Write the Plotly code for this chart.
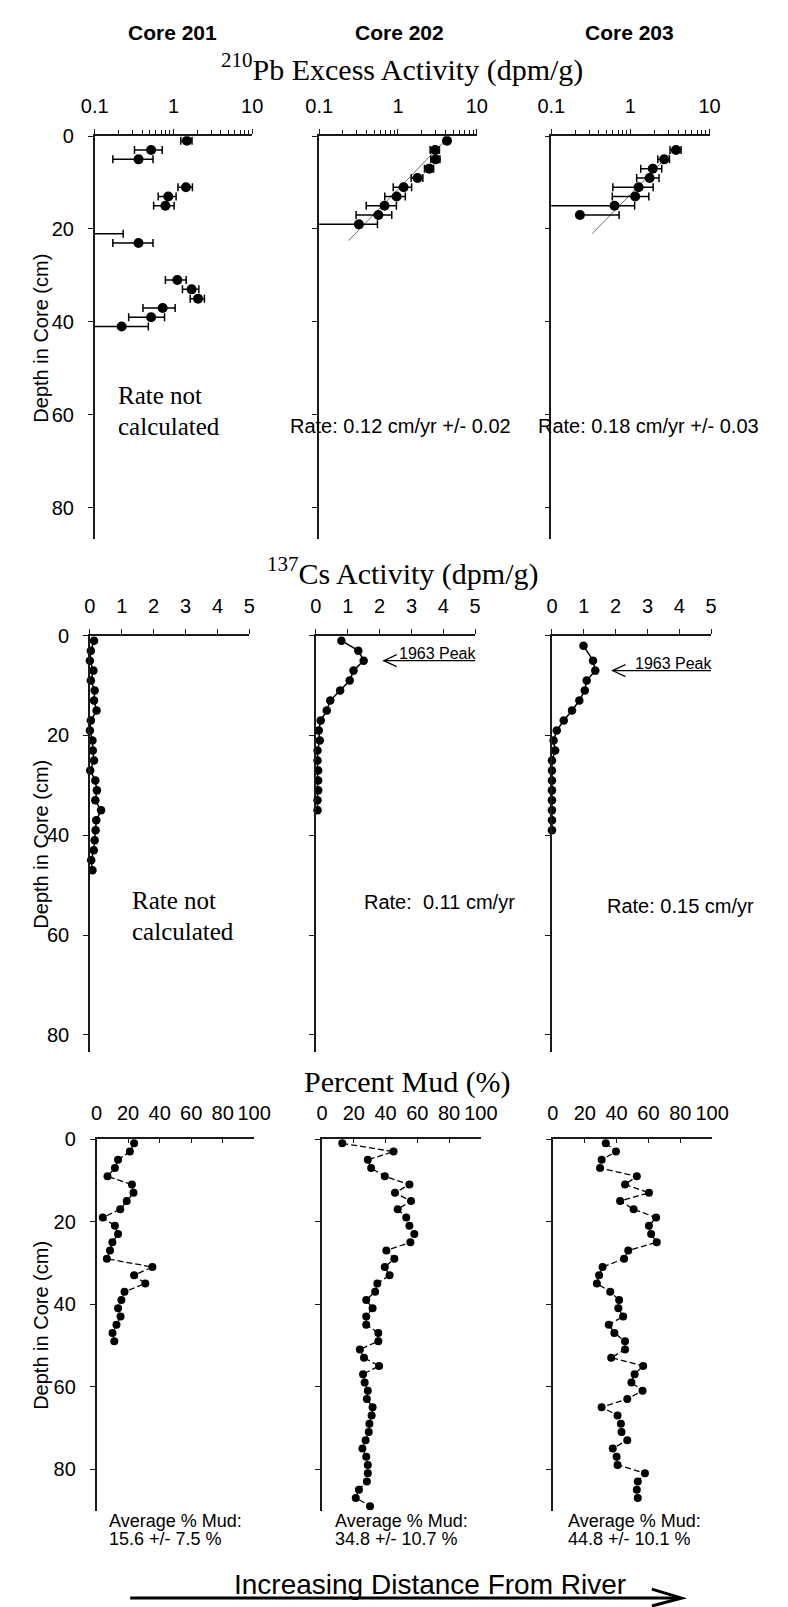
import plotly.graph_objects as go

W, H = 788, 1607

# ---------------- data ----------------
CORES = ["Core 201", "Core 202", "Core 203"]

# 210Pb excess activity (dpm/g)
PB201_DEPTH = [1, 3, 5, 11, 13, 15, 21, 23, 31, 33, 35, 37, 39, 41]
PB201_ACT = [1.48, 0.52, 0.36, 1.44, 0.86, 0.79, 0.05, 0.36, 1.12, 1.70, 2.05, 0.73, 0.52, 0.22]
PB201_ERR_P = [0.24, 0.20, 0.19, 0.30, 0.22, 0.23, 0.18, 0.19, 0.33, 0.40, 0.42, 0.32, 0.25, 0.26]
PB201_ERR_M = [0.24, 0.20, 0.19, 0.30, 0.22, 0.23, 0.00, 0.19, 0.33, 0.40, 0.42, 0.32, 0.25, 0.26]

PB202_DEPTH = [1, 3, 5, 7, 9, 11, 13, 15, 17, 19]
PB202_ACT = [4.19, 2.96, 3.01, 2.50, 1.77, 1.18, 0.96, 0.675, 0.564, 0.319]
PB202_ERR = [0.30, 0.40, 0.40, 0.33, 0.30, 0.31, 0.28, 0.28, 0.27, 0.23]
FIT202_DEPTH = [0.5, 22.5]
FIT202_ACT = [4.2, 0.236]

PB203_DEPTH = [3, 5, 7, 9, 11, 13, 15, 17]
PB203_ACT = [3.77, 2.67, 1.92, 1.75, 1.27, 1.15, 0.63, 0.23]
PB203_ERR_P = [0.60, 0.45, 0.57, 0.55, 0.67, 0.56, 0.50, 0.49]
PB203_ERR_M = [0.60, 0.45, 0.57, 0.55, 0.67, 0.56, 0.55, 0.00]
FIT203_DEPTH = [2, 21]
FIT203_ACT = [4.0, 0.33]

# 137Cs activity (dpm/g)
CS201_DEPTH = [1, 3, 5, 7, 9, 11, 13, 15, 17, 19, 21, 23, 25, 27, 29, 31, 33, 35, 37, 39, 41, 43, 45, 47]
CS201_ACT = [0.13, 0.03, 0.0, 0.11, 0.03, 0.15, 0.13, 0.21, 0.03, 0.0, 0.08, 0.09,
             0.13, 0.01, 0.17, 0.22, 0.17, 0.35, 0.20, 0.18, 0.15, 0.12, 0.04, 0.08]
CS202_DEPTH = [1, 3, 5, 7, 9, 11, 13, 15, 17, 19, 21, 23, 25, 27, 29, 31, 33, 35]
CS202_ACT = [0.80, 1.33, 1.50, 1.18, 1.06, 0.76, 0.45, 0.34, 0.15, 0.09, 0.12, 0.05,
             0.05, 0.07, 0.07, 0.07, 0.05, 0.05]
CS203_DEPTH = [2, 5, 7, 9, 11, 13, 15, 17, 19, 21, 23, 25, 27, 29, 31, 33, 35, 37, 39]
CS203_ACT = [0.99, 1.29, 1.36, 1.09, 1.03, 0.86, 0.63, 0.37, 0.15, 0.05, 0.10, 0.0,
             0.0, 0.0, 0.0, 0.0, 0.0, 0.0, 0.0]
CS_ERR_X = 0.08
CS_ERR_Y = 0.6
PEAK_DEPTH = [5, 7]          # 1963 peak depth, cores 202 / 203
PEAK_TIP_X = [2.13, 1.9]     # arrow tip activity
PEAK_TAIL_X = 5.0

# Percent mud (%)
MUD201_DEPTH = [1, 3, 5, 7, 9, 11, 13, 15, 17, 19, 21, 23, 25, 27, 29, 31, 33, 35, 37, 39, 41, 43, 45, 47, 49]
MUD201 = [23.8, 21.1, 13.6, 11.6, 6.9, 22.4, 23.4, 19.1, 15.0, 3.9, 11.6, 13.6, 10.0,
          8.5, 6.5, 35.4, 23.8, 30.9, 17.7, 15.7, 13.6, 15.2, 12.6, 10.1, 11.2]
MUD202_DEPTH = [1, 3, 5, 7, 9, 11, 13, 15, 17, 19, 21, 23, 25, 27, 29, 31, 33, 35, 37, 39,
                41, 43, 45, 47, 49, 51, 53, 55, 57, 59, 61, 63, 65, 67, 69, 71, 73, 75, 77, 79,
                81, 83, 85, 87, 89]
MUD202 = [12.7, 45.0, 28.8, 30.9, 39.5, 55.0, 45.9, 56.0, 47.6, 53.0,
          55.0, 58.1, 55.6, 40.5, 45.5, 39.5, 42.5, 34.8, 33.4, 27.8,
          31.8, 27.8, 27.8, 35.4, 35.4, 23.8, 26.4, 35.9, 25.8, 26.8,
          28.8, 28.2, 31.8, 31.2, 29.8, 29.4, 27.4, 25.4, 27.8, 28.8,
          28.8, 28.2, 23.2, 21.2, 30.2]
MUD203_DEPTH = [1, 3, 5, 7, 9, 11, 13, 15, 17, 19, 21, 23, 25, 27, 29, 31, 33, 35, 37, 39,
                41, 43, 45, 47, 49, 51, 53, 55, 57, 59, 61, 63, 65, 67, 69, 71, 73, 75, 77, 79,
                81, 83, 85, 87]
MUD203 = [33.2, 39.6, 30.6, 29.6, 52.7, 45.3, 60.3, 42.2, 50.7, 64.8,
          60.3, 61.7, 65.2, 47.3, 44.7, 31.2, 29.0, 27.6, 36.0, 41.6,
          41.1, 44.1, 35.1, 38.6, 45.3, 45.3, 36.6, 56.7, 51.3, 49.3,
          56.3, 46.7, 30.6, 40.6, 42.7, 43.1, 46.7, 37.6, 40.0, 40.6,
          57.8, 53.3, 52.7, 53.3]

# axis ticks / labels
PB_TICKS = [0.1, 1, 10]
PB_TICKTEXT = ["0.1", "1", "10"]
PB_MINOR = [0.2, 0.3, 0.4, 0.5, 0.6, 0.7, 0.8, 0.9, 2, 3, 4, 5, 6, 7, 8, 9]
CS_TICKS = [0, 1, 2, 3, 4, 5]
MUD_TICKS = [0, 20, 40, 60, 80, 100]
DEPTH_TICKS = [0, 20, 40, 60, 80]

PB_TITLE = "<sup>210</sup>Pb Excess Activity (dpm/g)"
CS_TITLE = "<sup>137</sup>Cs Activity (dpm/g)"
MUD_TITLE = "Percent Mud (%)"
Y_TITLE = "Depth in Core (cm)"
NOT_CALC = ["Rate not", "calculated"]
PB_RATES = ["Rate: 0.12 cm/yr +/- 0.02", "Rate: 0.18 cm/yr +/- 0.03"]
CS_RATES = ["Rate:  0.11 cm/yr", "Rate: 0.15 cm/yr"]
MUD_AVG1 = ["Average % Mud:", "Average % Mud:", "Average % Mud:"]
MUD_AVG2 = ["15.6 +/- 7.5 %", "34.8 +/- 10.7 %", "44.8 +/- 10.1 %"]
PEAK_LABEL = "1963 Peak"
BOTTOM_TEXT = "Increasing Distance From River"

# ---------------- layout geometry (pixels) ----------------
def fx(p):
    return p / W


def fy(p):
    return 1 - p / H


PANEL_X = {
    "pb": [(84, 248), (317.7, 481.7), (559.3, 724)],
    "cs": [(79, 245), (314.3, 480), (560, 725.7)],
    "mud": [(86, 250), (320.7, 486), (561, 726.7)],
}
PANEL_Y = {"pb": (126, 532), "cs": (629, 1048), "mud": (1136, 1510)}
Y_MAX = {"pb": 86.85, "cs": 83.4, "mud": 90.1}
ROWS = ["pb", "cs", "mud"]

SANS = "Liberation Sans, Arial, sans-serif"
SERIF = "Liberation Serif, Times New Roman, serif"
AX_COLOR = "#1a1a1a"

fig = go.Figure()
layout = dict(
    width=W, height=H, margin=dict(l=0, r=0, t=0, b=0),
    paper_bgcolor="white", plot_bgcolor="white", showlegend=False,
)

for r, row in enumerate(ROWS):
    for c in range(3):
        idx = r * 3 + c + 1
        xs = "" if idx == 1 else str(idx)
        x0, x1 = PANEL_X[row][c]
        y0, y1 = PANEL_Y[row]
        xa = dict(
            domain=[fx(x0), fx(x1)], anchor="y" + xs, side="top",
            showline=True, linecolor=AX_COLOR, linewidth=1.5,
            ticks="outside", ticklen=5, tickwidth=1.2, tickcolor=AX_COLOR,
            tickfont=dict(family=SANS, size=20, color="black"),
            ticklabelstandoff=8, showgrid=False, zeroline=False,
        )
        if row == "pb":
            xa.update(type="log", range=[-1, 1], tickvals=PB_TICKS, ticktext=PB_TICKTEXT,
                      minor=dict(tickvals=PB_MINOR, ticks="outside", ticklen=4,
                                 tickwidth=1, tickcolor=AX_COLOR))
        elif row == "cs":
            xa.update(range=[0, 5], tickvals=CS_TICKS)
        else:
            xa.update(range=[0, 100], tickvals=MUD_TICKS, ticks="inside", ticklen=4,
                      ticklabelstandoff=9)
        ya = dict(
            domain=[fy(y1), fy(y0)], anchor="x" + xs, range=[Y_MAX[row], 0],
            showline=True, linecolor=AX_COLOR, linewidth=1.5,
            ticks="outside", ticklen=5, tickwidth=1.2, tickcolor=AX_COLOR,
            tickvals=DEPTH_TICKS, showticklabels=(c == 0),
            tickfont=dict(family=SANS, size=20, color="black"),
            ticklabelstandoff=10, showgrid=False, zeroline=False,
        )
        layout["xaxis" + xs] = xa
        layout["yaxis" + xs] = ya


def ax_names(idx):
    s = "" if idx == 1 else str(idx)
    return "x" + s, "y" + s


# ---- Pb traces ----
def pb_trace(depth, act, ep, em, idx):
    xn, yn = ax_names(idx)
    return go.Scatter(
        x=act, y=depth, mode="markers", xaxis=xn, yaxis=yn,
        marker=dict(size=10, color="black"),
        error_x=dict(type="data", array=ep, arrayminus=em, symmetric=False,
                     color="black", thickness=1.5, width=4),
        hoverinfo="skip",
    )


def fit_trace(depth, act, idx):
    xn, yn = ax_names(idx)
    return go.Scatter(x=act, y=depth, mode="lines", xaxis=xn, yaxis=yn,
                      line=dict(color="#6e6e6e", width=1), hoverinfo="skip")


fig.add_trace(fit_trace(FIT202_DEPTH, FIT202_ACT, 2))
fig.add_trace(fit_trace(FIT203_DEPTH, FIT203_ACT, 3))
fig.add_trace(pb_trace(PB201_DEPTH, PB201_ACT, PB201_ERR_P, PB201_ERR_M, 1))
fig.add_trace(pb_trace(PB202_DEPTH, PB202_ACT, PB202_ERR, PB202_ERR, 2))
fig.add_trace(pb_trace(PB203_DEPTH, PB203_ACT, PB203_ERR_P, PB203_ERR_M, 3))

# ---- Cs traces ----
for i, (d, a) in enumerate([(CS201_DEPTH, CS201_ACT), (CS202_DEPTH, CS202_ACT), (CS203_DEPTH, CS203_ACT)]):
    xn, yn = ax_names(4 + i)
    fig.add_trace(go.Scatter(
        x=a, y=d, mode="lines+markers", xaxis=xn, yaxis=yn, cliponaxis=False,
        line=dict(color="black", width=1.5),
        marker=dict(size=8.5, color="black"),
        error_x=dict(type="constant", value=CS_ERR_X, color="black", thickness=1, width=2.5),
        error_y=dict(type="constant", value=CS_ERR_Y, color="black", thickness=1, width=2.5),
        hoverinfo="skip",
    ))

# ---- Mud traces ----
for i, (d, m) in enumerate([(MUD201_DEPTH, MUD201), (MUD202_DEPTH, MUD202), (MUD203_DEPTH, MUD203)]):
    xn, yn = ax_names(7 + i)
    fig.add_trace(go.Scatter(
        x=m, y=d, mode="lines+markers", xaxis=xn, yaxis=yn, cliponaxis=False,
        line=dict(color="black", width=1.3, dash="6px,3px"),
        marker=dict(size=8, color="black"),
        hoverinfo="skip",
    ))

# ---------------- annotations ----------------
ann = []


def txt(text, x, y, size, family=SANS, xanchor="center", yanchor="middle", **kw):
    a = dict(text=text, x=fx(x), y=fy(y), xref="paper", yref="paper",
             xanchor=xanchor, yanchor=yanchor, showarrow=False,
             font=dict(family=family, size=size, color="black"))
    a.update(kw)
    ann.append(a)


CORE_X = [165.5, 401, 641]
for name, cx in zip(CORES, CORE_X):
    txt("<b>%s</b>" % name, cx, 22, 21)

txt(PB_TITLE, 404, 57, 30, family=SERIF)
txt(CS_TITLE, 405, 564, 30, family=SERIF)
txt(MUD_TITLE, 410, 1078, 30, family=SERIF)

for row in ROWS:
    y0, y1 = PANEL_Y[row]
    txt(Y_TITLE, 28, (y0 + y1) / 2, 20, textangle=-90)

# rate texts
txt(NOT_CALC[0], 106, 387, 25, family=SERIF, xanchor="left")
txt(NOT_CALC[1], 106, 418, 25, family=SERIF, xanchor="left")
txt(PB_RATES[0], 402, 418, 20)
txt(PB_RATES[1], 661, 418, 20)
txt(NOT_CALC[0], 121, 896, 25, family=SERIF, xanchor="left")
txt(NOT_CALC[1], 121, 927, 25, family=SERIF, xanchor="left")
txt(CS_RATES[0], 443, 897, 20)
txt(CS_RATES[1], 694, 901, 20)

# mud averages
AVG_X = [97, 332, 575]
for i in range(3):
    txt(MUD_AVG1[i], AVG_X[i], 1520, 18, xanchor="left")
    txt(MUD_AVG2[i], AVG_X[i], 1539, 18, xanchor="left")

# 1963 peak arrows: line + open chevron head, anchored in Cs data coordinates
shapes = []
for i in range(2):
    xn, yn = ax_names(5 + i)
    shapes.append(dict(
        type="line", xref=xn, yref=yn,
        x0=PEAK_TIP_X[i], x1=PEAK_TAIL_X, y0=PEAK_DEPTH[i], y1=PEAK_DEPTH[i],
        line=dict(color="black", width=1.2),
    ))
    shapes.append(dict(
        type="path", xref=xn, yref=yn,
        xsizemode="pixel", ysizemode="pixel",
        xanchor=PEAK_TIP_X[i], yanchor=PEAK_DEPTH[i],
        path="M 13,6 L 0,0 L 13,-6",
        line=dict(color="black", width=1.2),
    ))
    ann.append(dict(
        x=PEAK_TAIL_X, y=PEAK_DEPTH[i], xref=xn, yref=yn, xshift=4,
        text=PEAK_LABEL, showarrow=False, xanchor="right", yanchor="bottom",
        yshift=-3, font=dict(family=SANS, size=16, color="black"),
    ))

# bottom text and arrow
txt(BOTTOM_TEXT, 433, 1584, 28)
shapes += [
    dict(type="line", xref="paper", yref="paper",
         x0=fx(121), x1=fx(692), y0=fy(1598), y1=fy(1598),
         line=dict(color="black", width=3)),
    dict(type="path", xref="paper", yref="paper",
         path="M %f,%f L %f,%f L %f,%f" % (fx(664), fy(1589), fx(695), fy(1598), fx(664), fy(1606)),
         line=dict(color="black", width=3)),
]

layout["shapes"] = shapes
layout["annotations"] = ann
fig.update_layout(**layout)
fig.write_html("out.html")
